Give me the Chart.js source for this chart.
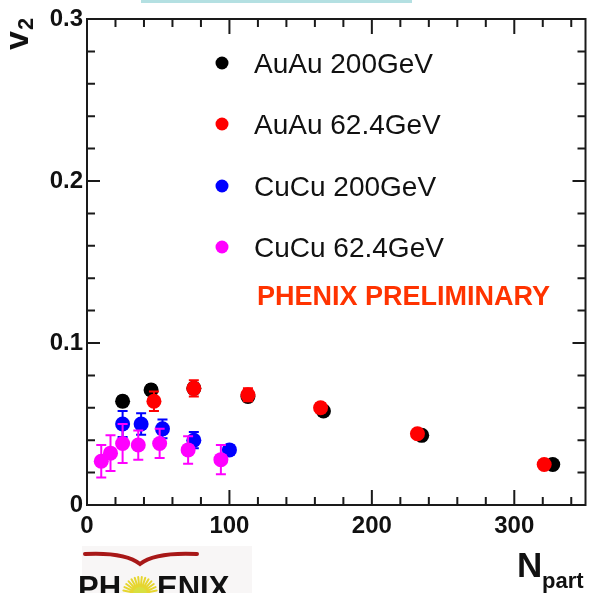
<!DOCTYPE html>
<html>
<head>
<meta charset="utf-8">
<script src="https://cdn.jsdelivr.net/npm/chart.js@4.4.1/dist/chart.umd.min.js"></script>
<style>
  html, body { margin: 0; padding: 0; background: #fff; }
  #wrap { width: 593px; height: 593px; }
</style>
</head>
<body>
<div id="wrap"><canvas id="myChart" width="593" height="593"></canvas></div>
<script>
// series (Npart, v2, error)
const seriesNames = ['AuAu 200GeV', 'AuAu 62.4GeV', 'CuCu 200GeV', 'CuCu 62.4GeV'];
const seriesColors = ['#000000', '#ff0000', '#0000ff', '#ff00ff'];

const npartAuAu200 = [25, 45, 75, 113, 166, 235, 327];
const v2AuAu200 = [0.064, 0.071, 0.072, 0.067, 0.058, 0.043, 0.025];
const errAuAu200 = [0.003, 0.003, 0.003, 0.003, 0.002, 0.002, 0.002];

const npartAuAu62 = [47, 75, 113, 164, 232, 321];
const v2AuAu62 = [0.064, 0.072, 0.068, 0.060, 0.044, 0.025];
const errAuAu62 = [0.006, 0.005, 0.004, 0.003, 0.002, 0.002];

const npartCuCu200 = [25, 38, 53, 75, 100];
const v2CuCu200 = [0.050, 0.050, 0.047, 0.040, 0.034];
const errCuCu200 = [0.008, 0.0066, 0.0058, 0.005, 0.003];

const npartCuCu62 = [10, 16.5, 25, 36, 51, 71, 94];
const v2CuCu62 = [0.027, 0.032, 0.038, 0.037, 0.038, 0.034, 0.028];
const errCuCu62 = [0.010, 0.011, 0.012, 0.009, 0.009, 0.0085, 0.009];

const xTicks = [0, 100, 200, 300];
const yTicks = [0, 0.1, 0.2, 0.3];

function points(xs, ys, es) {
  return xs.map((x, i) => ({ x: x, y: ys[i], err: es[i] }));
}

const allX = [npartAuAu200, npartAuAu62, npartCuCu200, npartCuCu62];
const allY = [v2AuAu200, v2AuAu62, v2CuCu200, v2CuCu62];
const allE = [errAuAu200, errAuAu62, errCuCu200, errCuCu62];
const drawOrder = [4, 3, 2, 1];

const FONT = '"Liberation Sans", Arial, Helvetica, sans-serif';

// error bars under each dataset's markers
const errorBars = {
  id: 'errorBars',
  beforeDatasetDraw(chart, args) {
    const ds = chart.data.datasets[args.index];
    const ctx = chart.ctx;
    const yScale = chart.scales.y;
    ctx.save();
    ctx.strokeStyle = ds.borderColor;
    ctx.lineWidth = 2;
    args.meta.data.forEach((pt, i) => {
      const d = ds.data[i];
      const top = yScale.getPixelForValue(d.y + d.err);
      const bot = yScale.getPixelForValue(d.y - d.err);
      ctx.beginPath();
      ctx.moveTo(pt.x, top); ctx.lineTo(pt.x, bot);
      ctx.moveTo(pt.x - 5, top); ctx.lineTo(pt.x + 5, top);
      ctx.moveTo(pt.x - 5, bot); ctx.lineTo(pt.x + 5, bot);
      ctx.stroke();
    });
    ctx.restore();
  }
};

// ROOT style frame with inward ticks on all four sides
const frameTicks = {
  id: 'frameTicks',
  beforeDatasetsDraw(chart) {
    const { ctx, chartArea: a, scales } = chart;
    ctx.save();
    ctx.strokeStyle = '#1a1a1a';
    ctx.lineWidth = 2;
    ctx.strokeRect(a.left, a.top, a.right - a.left, a.bottom - a.top);
    ctx.beginPath();
    for (let i = 0; i <= 17; i++) {
      const px = scales.x.getPixelForValue(i * 20);
      const len = (i % 5 === 0) ? 15 : 8;
      ctx.moveTo(px, a.bottom); ctx.lineTo(px, a.bottom - len);
      ctx.moveTo(px, a.top); ctx.lineTo(px, a.top + len);
    }
    for (let j = 0; j <= 15; j++) {
      const py = scales.y.getPixelForValue(j * 0.02);
      const len = (j % 5 === 0) ? 13 : 8;
      ctx.moveTo(a.left, py); ctx.lineTo(a.left + len, py);
      ctx.moveTo(a.right, py); ctx.lineTo(a.right - len, py);
    }
    ctx.stroke();
    ctx.restore();
  }
};

const decorations = {
  id: 'decorations',
  afterDraw(chart) {
    const ctx = chart.ctx;
    ctx.save();
    // strip of the title box above the frame
    ctx.fillStyle = '#b4e0e2';
    ctx.fillRect(141, 0, 271, 3);

    // legend
    ctx.textBaseline = 'middle';
    ctx.textAlign = 'left';
    const legY = [63, 124, 186, 247];
    seriesNames.forEach((name, i) => {
      ctx.fillStyle = seriesColors[i];
      ctx.beginPath();
      ctx.arc(222, legY[i], 6.5, 0, Math.PI * 2);
      ctx.fill();
      ctx.fillStyle = '#111';
      ctx.font = '28px ' + FONT;
      ctx.fillText(name, 254, legY[i] + 2);
    });

    ctx.fillStyle = '#ff3300';
    ctx.font = 'bold 27px ' + FONT;
    ctx.fillText('PHENIX PRELIMINARY', 257, 298);

    // y title: v_2 rotated
    ctx.fillStyle = '#111';
    ctx.save();
    ctx.translate(28, 50);
    ctx.rotate(-Math.PI / 2);
    ctx.textBaseline = 'alphabetic';
    ctx.font = 'bold 34px ' + FONT;
    ctx.fillText('v', 0, 0);
    ctx.font = 'bold 22px ' + FONT;
    ctx.fillText('2', 20, 5);
    ctx.restore();

    // x title: N_part
    ctx.textBaseline = 'alphabetic';
    ctx.font = 'bold 35px ' + FONT;
    ctx.fillText('N', 517, 577);
    ctx.font = 'bold 22px ' + FONT;
    ctx.fillText('part', 542, 588);

    // logo
    ctx.fillStyle = '#f8f6f6';
    ctx.fillRect(82, 546, 170, 47);
    ctx.strokeStyle = '#a81818';
    ctx.lineCap = 'round';
    ctx.lineWidth = 4;
    ctx.beginPath();
    ctx.moveTo(85, 554);
    ctx.quadraticCurveTo(125, 552, 140, 564);
    ctx.quadraticCurveTo(155, 552, 197, 554);
    ctx.stroke();
    ctx.strokeStyle = '#e6d630';
    ctx.lineWidth = 2;
    ctx.beginPath();
    for (let k = 0; k < 16; k++) {
      const ang = Math.PI + k * Math.PI / 15;
      ctx.moveTo(140 + Math.cos(ang) * 5, 594 + Math.sin(ang) * 5);
      ctx.lineTo(140 + Math.cos(ang) * 17, 594 + Math.sin(ang) * 17);
    }
    ctx.stroke();
    ctx.fillStyle = '#d8e040';
    ctx.beginPath();
    ctx.arc(140, 594, 7, 0, Math.PI * 2);
    ctx.fill();
    ctx.fillStyle = '#111';
    ctx.font = 'bold 31px ' + FONT;
    ctx.fillText('PH', 78, 598);
    ctx.fillText('ENIX', 157, 598);
    ctx.restore();
  }
};

const ctx = document.getElementById('myChart');

const data = {
  datasets: seriesNames.map((name, i) => ({
    label: name,
    data: points(allX[i], allY[i], allE[i]),
    backgroundColor: seriesColors[i],
    borderColor: seriesColors[i],
    pointRadius: 7.5,
    pointBorderWidth: 0,
    order: drawOrder[i]
  }))
};

const config = {
  type: 'scatter',
  data: data,
  options: {
    responsive: false,
    animation: false,
    layout: { padding: { top: 19, right: 4, left: 0, bottom: 0 } },
    plugins: { legend: { display: false }, tooltip: { enabled: false } },
    scales: {
      x: {
        min: 0, max: 350,
        afterFit(scale) { scale.height = 88; },
        afterBuildTicks(scale) { scale.ticks = xTicks.map(v => ({ value: v })); },
        grid: { display: false, drawTicks: false },
        border: { display: false },
        ticks: {
          padding: 7,
          color: '#111',
          maxRotation: 0,
          autoSkip: false,
          font: { family: FONT, size: 24, weight: 'bold' },
          callback: v => String(v)
        }
      },
      y: {
        min: 0, max: 0.3,
        afterFit(scale) { scale.width = 87; },
        afterBuildTicks(scale) { scale.ticks = yTicks.map(v => ({ value: v })); },
        grid: { display: false, drawTicks: false },
        border: { display: false },
        ticks: {
          padding: 4,
          color: '#111',
          autoSkip: false,
          font: { family: FONT, size: 24, weight: 'bold' },
          callback: v => (v === 0 ? '0' : v.toFixed(1))
        }
      }
    }
  },
  plugins: [frameTicks, errorBars, decorations]
};

const myChart = new Chart(ctx, config);
</script>
</body>
</html>
